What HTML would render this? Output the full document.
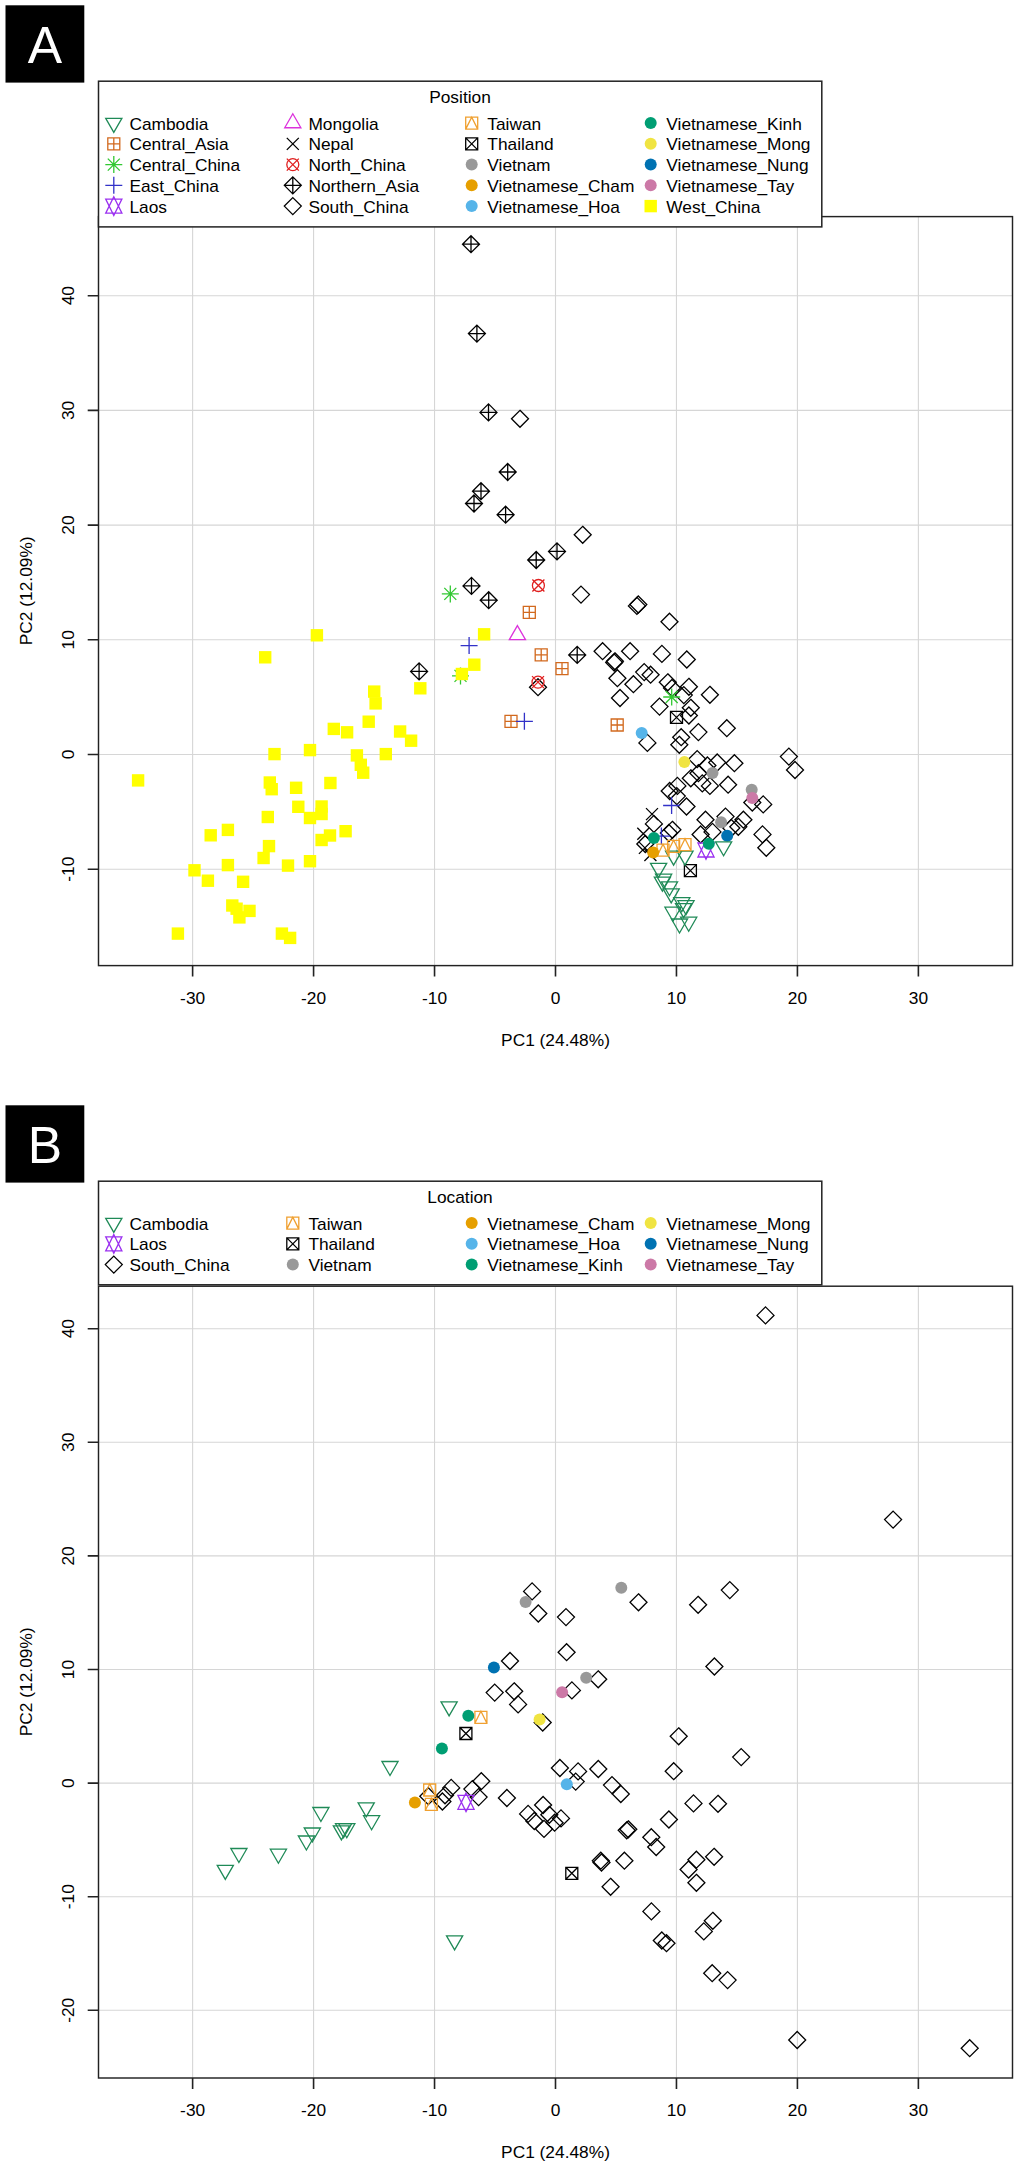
<!DOCTYPE html>
<html><head><meta charset="utf-8"><title>PCA</title>
<style>
html,body{margin:0;padding:0;background:#fff;}
body{width:1019px;height:2166px;overflow:hidden;}
svg{display:block;font-family:"Liberation Sans",sans-serif;font-size:16.2px;fill:#000;}
</style></head><body>
<svg width="1019" height="2166" viewBox="0 0 1019 2166">
<rect width="1019" height="2166" fill="#fff"/>
<rect x="5.5" y="5.3" width="78.8" height="77.3" fill="#000"/><text x="45" y="63" font-size="51.5" fill="#fff" text-anchor="middle">A</text><path d="M192.62 216.6V965.6M313.58 216.6V965.6M434.54 216.6V965.6M555.5 216.6V965.6M676.46 216.6V965.6M797.42 216.6V965.6M918.38 216.6V965.6M98.5 295.7H1012.5M98.5 410.4H1012.5M98.5 525.1H1012.5M98.5 639.8H1012.5M98.5 754.5H1012.5M98.5 869.2H1012.5" stroke="#d6d6d6" stroke-width="1.1" fill="none"/><g fill="none" stroke-width="1.3" stroke-linejoin="miter"><rect x="259" y="651.1" width="12.4" height="12.4" fill="#ffff00" stroke="none"/><rect x="310.7" y="629.1" width="12.4" height="12.4" fill="#ffff00" stroke="none"/><rect x="268.3" y="747.9" width="12.4" height="12.4" fill="#ffff00" stroke="none"/><rect x="303.8" y="743.9" width="12.4" height="12.4" fill="#ffff00" stroke="none"/><rect x="131.9" y="774.2" width="12.4" height="12.4" fill="#ffff00" stroke="none"/><rect x="263.6" y="776.3" width="12.4" height="12.4" fill="#ffff00" stroke="none"/><rect x="265.5" y="783" width="12.4" height="12.4" fill="#ffff00" stroke="none"/><rect x="289.9" y="781.6" width="12.4" height="12.4" fill="#ffff00" stroke="none"/><rect x="292.1" y="800.6" width="12.4" height="12.4" fill="#ffff00" stroke="none"/><rect x="261.6" y="810.8" width="12.4" height="12.4" fill="#ffff00" stroke="none"/><rect x="303.8" y="811.8" width="12.4" height="12.4" fill="#ffff00" stroke="none"/><rect x="315.4" y="800.3" width="12.4" height="12.4" fill="#ffff00" stroke="none"/><rect x="315.4" y="807.8" width="12.4" height="12.4" fill="#ffff00" stroke="none"/><rect x="477.9" y="628.1" width="12.4" height="12.4" fill="#ffff00" stroke="none"/><rect x="468.1" y="658.5" width="12.4" height="12.4" fill="#ffff00" stroke="none"/><rect x="414.1" y="682.1" width="12.4" height="12.4" fill="#ffff00" stroke="none"/><rect x="368" y="685.4" width="12.4" height="12.4" fill="#ffff00" stroke="none"/><rect x="369.4" y="697.2" width="12.4" height="12.4" fill="#ffff00" stroke="none"/><rect x="362.5" y="715.5" width="12.4" height="12.4" fill="#ffff00" stroke="none"/><rect x="327.6" y="722.7" width="12.4" height="12.4" fill="#ffff00" stroke="none"/><rect x="340.9" y="726.1" width="12.4" height="12.4" fill="#ffff00" stroke="none"/><rect x="393.9" y="725.3" width="12.4" height="12.4" fill="#ffff00" stroke="none"/><rect x="404.9" y="734.5" width="12.4" height="12.4" fill="#ffff00" stroke="none"/><rect x="350.7" y="749.2" width="12.4" height="12.4" fill="#ffff00" stroke="none"/><rect x="354.6" y="758.6" width="12.4" height="12.4" fill="#ffff00" stroke="none"/><rect x="357" y="766.5" width="12.4" height="12.4" fill="#ffff00" stroke="none"/><rect x="379.6" y="747.9" width="12.4" height="12.4" fill="#ffff00" stroke="none"/><rect x="324.2" y="776.8" width="12.4" height="12.4" fill="#ffff00" stroke="none"/><rect x="221.7" y="823.7" width="12.4" height="12.4" fill="#ffff00" stroke="none"/><rect x="204.5" y="829.1" width="12.4" height="12.4" fill="#ffff00" stroke="none"/><rect x="323.8" y="829.3" width="12.4" height="12.4" fill="#ffff00" stroke="none"/><rect x="315.4" y="833.8" width="12.4" height="12.4" fill="#ffff00" stroke="none"/><rect x="262.8" y="839.9" width="12.4" height="12.4" fill="#ffff00" stroke="none"/><rect x="257.4" y="851.8" width="12.4" height="12.4" fill="#ffff00" stroke="none"/><rect x="303.8" y="855" width="12.4" height="12.4" fill="#ffff00" stroke="none"/><rect x="281.8" y="859.4" width="12.4" height="12.4" fill="#ffff00" stroke="none"/><rect x="221.7" y="858.9" width="12.4" height="12.4" fill="#ffff00" stroke="none"/><rect x="188.3" y="864.1" width="12.4" height="12.4" fill="#ffff00" stroke="none"/><rect x="201.7" y="874.5" width="12.4" height="12.4" fill="#ffff00" stroke="none"/><rect x="236.9" y="875.6" width="12.4" height="12.4" fill="#ffff00" stroke="none"/><rect x="226.1" y="899.3" width="12.4" height="12.4" fill="#ffff00" stroke="none"/><rect x="230.4" y="902.5" width="12.4" height="12.4" fill="#ffff00" stroke="none"/><rect x="233.2" y="911.2" width="12.4" height="12.4" fill="#ffff00" stroke="none"/><rect x="243.3" y="904.7" width="12.4" height="12.4" fill="#ffff00" stroke="none"/><rect x="171.7" y="927.4" width="12.4" height="12.4" fill="#ffff00" stroke="none"/><rect x="275.7" y="927.4" width="12.4" height="12.4" fill="#ffff00" stroke="none"/><rect x="283.9" y="931.7" width="12.4" height="12.4" fill="#ffff00" stroke="none"/><rect x="339.4" y="825" width="12.4" height="12.4" fill="#ffff00" stroke="none"/><path d="M454.5 669.9L466.5 681.9M454.5 681.9L466.5 669.9M452.01 675.9H468.99M460.5 667.41V684.39" stroke="#32c832"/><rect x="455.7" y="667.8" width="12.4" height="12.4" fill="#ffff00" stroke="none"/><path d="M471 235.71L479.49 244.2L471 252.69L462.51 244.2ZM462.51 244.2H479.49M471 235.71V252.69" stroke="#000000"/><path d="M476.9 325.11L485.39 333.6L476.9 342.09L468.41 333.6ZM468.41 333.6H485.39M476.9 325.11V342.09" stroke="#000000"/><path d="M488.5 403.91L496.99 412.4L488.5 420.89L480.01 412.4ZM480.01 412.4H496.99M488.5 403.91V420.89" stroke="#000000"/><path d="M507.7 463.51L516.19 472L507.7 480.49L499.21 472ZM499.21 472H516.19M507.7 463.51V480.49" stroke="#000000"/><path d="M481 482.71L489.49 491.2L481 499.69L472.51 491.2ZM472.51 491.2H489.49M481 482.71V499.69" stroke="#000000"/><path d="M474 495.01L482.49 503.5L474 511.99L465.51 503.5ZM465.51 503.5H482.49M474 495.01V511.99" stroke="#000000"/><path d="M505.6 506.21L514.09 514.7L505.6 523.19L497.11 514.7ZM497.11 514.7H514.09M505.6 506.21V523.19" stroke="#000000"/><path d="M557 542.91L565.49 551.4L557 559.89L548.51 551.4ZM548.51 551.4H565.49M557 542.91V559.89" stroke="#000000"/><path d="M536.2 551.51L544.69 560L536.2 568.49L527.71 560ZM527.71 560H544.69M536.2 551.51V568.49" stroke="#000000"/><path d="M471.5 577.41L479.99 585.9L471.5 594.39L463.01 585.9ZM463.01 585.9H479.99M471.5 577.41V594.39" stroke="#000000"/><path d="M488.7 591.71L497.19 600.2L488.7 608.69L480.21 600.2ZM480.21 600.2H497.19M488.7 591.71V608.69" stroke="#000000"/><path d="M577.2 646.41L585.69 654.9L577.2 663.39L568.71 654.9ZM568.71 654.9H585.69M577.2 646.41V663.39" stroke="#000000"/><path d="M419.1 662.91L427.59 671.4L419.1 679.89L410.61 671.4ZM410.61 671.4H427.59M419.1 662.91V679.89" stroke="#000000"/><path d="M520 410.31L528.49 418.8L520 427.29L511.51 418.8Z" stroke="#000000"/><path d="M582.7 526.31L591.19 534.8L582.7 543.29L574.21 534.8Z" stroke="#000000"/><path d="M581 586.11L589.49 594.6L581 603.09L572.51 594.6Z" stroke="#000000"/><path d="M636.9 597.41L645.39 605.9L636.9 614.39L628.41 605.9Z" stroke="#000000"/><path d="M638.3 596.01L646.79 604.5L638.3 612.99L629.81 604.5Z" stroke="#000000"/><path d="M669.5 613.21L677.99 621.7L669.5 630.19L661.01 621.7Z" stroke="#000000"/><path d="M602.6 642.71L611.09 651.2L602.6 659.69L594.11 651.2Z" stroke="#000000"/><path d="M630.1 642.71L638.59 651.2L630.1 659.69L621.61 651.2Z" stroke="#000000"/><path d="M661.9 645.41L670.39 653.9L661.9 662.39L653.41 653.9Z" stroke="#000000"/><path d="M686.8 651.01L695.29 659.5L686.8 667.99L678.31 659.5Z" stroke="#000000"/><path d="M614.2 654.01L622.69 662.5L614.2 670.99L605.71 662.5Z" stroke="#000000"/><path d="M614.9 652.81L623.39 661.3L614.9 669.79L606.41 661.3Z" stroke="#000000"/><path d="M617.4 669.71L625.89 678.2L617.4 686.69L608.91 678.2Z" stroke="#000000"/><path d="M644.2 663.61L652.69 672.1L644.2 680.59L635.71 672.1Z" stroke="#000000"/><path d="M650.6 666.21L659.09 674.7L650.6 683.19L642.11 674.7Z" stroke="#000000"/><path d="M633.4 675.71L641.89 684.2L633.4 692.69L624.91 684.2Z" stroke="#000000"/><path d="M620 689.51L628.49 698L620 706.49L611.51 698Z" stroke="#000000"/><path d="M667.8 673.81L676.29 682.3L667.8 690.79L659.31 682.3Z" stroke="#000000"/><path d="M672 679.51L680.49 688L672 696.49L663.51 688Z" stroke="#000000"/><path d="M688.9 678.31L697.39 686.8L688.9 695.29L680.41 686.8Z" stroke="#000000"/><path d="M709.9 686.31L718.39 694.8L709.9 703.29L701.41 694.8Z" stroke="#000000"/><path d="M683.8 686.61L692.29 695.1L683.8 703.59L675.31 695.1Z" stroke="#000000"/><path d="M659.5 698.11L667.99 706.6L659.5 715.09L651.01 706.6Z" stroke="#000000"/><path d="M690.8 699.31L699.29 707.8L690.8 716.29L682.31 707.8Z" stroke="#000000"/><path d="M688.9 707.01L697.39 715.5L688.9 723.99L680.41 715.5Z" stroke="#000000"/><path d="M698.4 723.61L706.89 732.1L698.4 740.59L689.91 732.1Z" stroke="#000000"/><path d="M681.2 728.71L689.69 737.2L681.2 745.69L672.71 737.2Z" stroke="#000000"/><path d="M679.3 736.31L687.79 744.8L679.3 753.29L670.81 744.8Z" stroke="#000000"/><path d="M647.4 734.41L655.89 742.9L647.4 751.39L638.91 742.9Z" stroke="#000000"/><path d="M538 678.71L546.49 687.2L538 695.69L529.51 687.2Z" stroke="#000000"/><path d="M726.8 719.71L735.29 728.2L726.8 736.69L718.31 728.2Z" stroke="#000000"/><path d="M788.9 748.11L797.39 756.6L788.9 765.09L780.41 756.6Z" stroke="#000000"/><path d="M795 761.51L803.49 770L795 778.49L786.51 770Z" stroke="#000000"/><path d="M697.2 750.61L705.69 759.1L697.2 767.59L688.71 759.1Z" stroke="#000000"/><path d="M690.8 769.81L699.29 778.3L690.8 786.79L682.31 778.3Z" stroke="#000000"/><path d="M698.4 764.71L706.89 773.2L698.4 781.69L689.91 773.2Z" stroke="#000000"/><path d="M702.3 774.91L710.79 783.4L702.3 791.89L693.81 783.4Z" stroke="#000000"/><path d="M709.9 777.41L718.39 785.9L709.9 794.39L701.41 785.9Z" stroke="#000000"/><path d="M707.4 757.01L715.89 765.5L707.4 773.99L698.91 765.5Z" stroke="#000000"/><path d="M669.7 782.51L678.19 791L669.7 799.49L661.21 791Z" stroke="#000000"/><path d="M677.4 777.41L685.89 785.9L677.4 794.39L668.91 785.9Z" stroke="#000000"/><path d="M676.8 787.61L685.29 796.1L676.8 804.59L668.31 796.1Z" stroke="#000000"/><path d="M686.5 798.01L694.99 806.5L686.5 814.99L678.01 806.5Z" stroke="#000000"/><path d="M653.9 815.41L662.39 823.9L653.9 832.39L645.41 823.9Z" stroke="#000000"/><path d="M672.4 821.31L680.89 829.8L672.4 838.29L663.91 829.8Z" stroke="#000000"/><path d="M668.9 824.51L677.39 833L668.9 841.49L660.41 833Z" stroke="#000000"/><path d="M705.5 811.21L713.99 819.7L705.5 828.19L697.01 819.7Z" stroke="#000000"/><path d="M700.6 826.01L709.09 834.5L700.6 842.99L692.11 834.5Z" stroke="#000000"/><path d="M712.5 823.41L720.99 831.9L712.5 840.39L704.01 831.9Z" stroke="#000000"/><path d="M645.3 835.51L653.79 844L645.3 852.49L636.81 844Z" stroke="#000000"/><path d="M717.2 754.01L725.69 762.5L717.2 770.99L708.71 762.5Z" stroke="#000000"/><path d="M734.4 754.71L742.89 763.2L734.4 771.69L725.91 763.2Z" stroke="#000000"/><path d="M728.1 776.21L736.59 784.7L728.1 793.19L719.61 784.7Z" stroke="#000000"/><path d="M752.3 794.01L760.79 802.5L752.3 810.99L743.81 802.5Z" stroke="#000000"/><path d="M763.2 795.91L771.69 804.4L763.2 812.89L754.71 804.4Z" stroke="#000000"/><path d="M725.5 808.11L733.99 816.6L725.5 825.09L717.01 816.6Z" stroke="#000000"/><path d="M743.4 811.21L751.89 819.7L743.4 828.19L734.91 819.7Z" stroke="#000000"/><path d="M738.3 818.31L746.79 826.8L738.3 835.29L729.81 826.8Z" stroke="#000000"/><path d="M731.3 819.51L739.79 828L731.3 836.49L722.81 828Z" stroke="#000000"/><path d="M762.5 825.91L770.99 834.4L762.5 842.89L754.01 834.4Z" stroke="#000000"/><path d="M766.3 839.31L774.79 847.8L766.3 856.29L757.81 847.8Z" stroke="#000000"/><path d="M523.3 606.3H535.3V618.3H523.3ZM523.3 612.3H535.3M529.3 606.3V618.3" stroke="#d2691e"/><path d="M535.2 648.9H547.2V660.9H535.2ZM535.2 654.9H547.2M541.2 648.9V660.9" stroke="#d2691e"/><path d="M556 662.7H568V674.7H556ZM556 668.7H568M562 662.7V674.7" stroke="#d2691e"/><path d="M505 715.3H517V727.3H505ZM505 721.3H517M511 715.3V727.3" stroke="#d2691e"/><path d="M611.2 719H623.2V731H611.2ZM611.2 725H623.2M617.2 719V731" stroke="#d2691e"/><path d="M444.3 587.9L456.3 599.9M444.3 599.9L456.3 587.9M441.81 593.9H458.79M450.3 585.41V602.39" stroke="#32c832"/><path d="M665.7 691L677.7 703M665.7 703L677.7 691M663.21 697H680.19M671.7 688.51V705.49" stroke="#32c832"/><path d="M460.61 645.6H477.59M469.1 637.11V654.09" stroke="#3232c8"/><path d="M515.91 721.3H532.89M524.4 712.81V729.79" stroke="#3232c8"/><path d="M663.11 805.5H680.09M671.6 797.01V813.99" stroke="#3232c8"/><path d="M652.91 836.1H669.89M661.4 827.61V844.59" stroke="#3232c8"/><path d="M517.4 625.67L525.48 639.67L509.32 639.67Z" stroke="#dc32dc"/><circle cx="538.4" cy="585.5" r="6" stroke="#e02020"/><path d="M532.4 579.5L544.4 591.5M532.4 591.5L544.4 579.5" stroke="#e02020"/><circle cx="538" cy="682.1" r="6" stroke="#e02020"/><path d="M532 676.1L544 688.1M532 688.1L544 676.1" stroke="#e02020"/><path d="M646 808.1L658 820.1M646 820.1L658 808.1" stroke="#000000"/><path d="M637.3 827.8L649.3 839.8M637.3 839.8L649.3 827.8" stroke="#000000"/><path d="M638.9 841.9L650.9 853.9M638.9 853.9L650.9 841.9" stroke="#000000"/><path d="M644.4 849L656.4 861M644.4 861L656.4 849" stroke="#000000"/><path d="M670.5 711.4H682.5V723.4H670.5ZM670.5 711.4L682.5 723.4M670.5 723.4L682.5 711.4" stroke="#000000"/><path d="M684.4 864.6H696.4V876.6H684.4ZM684.4 864.6L696.4 876.6M684.4 876.6L696.4 864.6" stroke="#000000"/><circle cx="712.5" cy="772.9" r="6" fill="#999999" stroke="none"/><circle cx="751.7" cy="789.8" r="6" fill="#999999" stroke="none"/><circle cx="721.1" cy="822.3" r="6" fill="#999999" stroke="none"/><circle cx="641.7" cy="733.1" r="6" fill="#56b4e9" stroke="none"/><circle cx="684.4" cy="761.9" r="6" fill="#f0e442" stroke="none"/><circle cx="752.3" cy="798" r="6" fill="#cc79a7" stroke="none"/><circle cx="727.2" cy="835.7" r="6" fill="#0072b2" stroke="none"/><path d="M658.6 877.4L666.68 863.4L650.52 863.4Z" stroke="#1f8a57"/><path d="M663.6 888.2L671.68 874.2L655.52 874.2Z" stroke="#1f8a57"/><path d="M662.4 891.1L670.48 877.1L654.32 877.1Z" stroke="#1f8a57"/><path d="M669.5 895.8L677.58 881.8L661.42 881.8Z" stroke="#1f8a57"/><path d="M671.2 902.9L679.28 888.9L663.12 888.9Z" stroke="#1f8a57"/><path d="M681.8 911.7L689.88 897.7L673.72 897.7Z" stroke="#1f8a57"/><path d="M686 914.7L694.08 900.7L677.92 900.7Z" stroke="#1f8a57"/><path d="M683.6 917.6L691.68 903.6L675.52 903.6Z" stroke="#1f8a57"/><path d="M673 921.2L681.08 907.2L664.92 907.2Z" stroke="#1f8a57"/><path d="M688.7 931.2L696.78 917.2L680.62 917.2Z" stroke="#1f8a57"/><path d="M679.5 933L687.58 919L671.42 919Z" stroke="#1f8a57"/><path d="M673.6 865.1L681.68 851.1L665.52 851.1Z" stroke="#1f8a57"/><path d="M685 865.1L693.08 851.1L676.92 851.1Z" stroke="#1f8a57"/><path d="M723.6 855.8L731.68 841.8L715.52 841.8Z" stroke="#1f8a57"/><path d="M657 844.2H669V856.2H657ZM657 856.2L663 844.2L669 856.2" stroke="#f0a030"/><path d="M667.6 840.3H679.6V852.3H667.6ZM667.6 852.3L673.6 840.3L679.6 852.3" stroke="#f0a030"/><path d="M679 838.7H691V850.7H679ZM679 850.7L685 838.7L691 850.7" stroke="#f0a030"/><path d="M706 840.67L714.08 857L697.92 857ZM706 859.33L714.08 843L697.92 843Z" stroke="#9b30f0"/><circle cx="653.9" cy="838.1" r="6" fill="#009e73" stroke="none"/><circle cx="708.8" cy="843.8" r="6" fill="#009e73" stroke="none"/><circle cx="653.2" cy="852.6" r="6" fill="#e69f00" stroke="none"/></g><rect x="98.5" y="216.6" width="914.0" height="749" fill="none" stroke="#222" stroke-width="1.45"/><path d="M192.62 965.6v11M313.58 965.6v11M434.54 965.6v11M555.5 965.6v11M676.46 965.6v11M797.42 965.6v11M918.38 965.6v11M98 295.7h-10.3M98 410.4h-10.3M98 525.1h-10.3M98 639.8h-10.3M98 754.5h-10.3M98 869.2h-10.3" stroke="#222" stroke-width="1.6" fill="none"/><text transform="translate(192.62 1003.6) scale(1.07 1)" text-anchor="middle">-30</text><text transform="translate(313.58 1003.6) scale(1.07 1)" text-anchor="middle">-20</text><text transform="translate(434.54 1003.6) scale(1.07 1)" text-anchor="middle">-10</text><text transform="translate(555.5 1003.6) scale(1.07 1)" text-anchor="middle">0</text><text transform="translate(676.46 1003.6) scale(1.07 1)" text-anchor="middle">10</text><text transform="translate(797.42 1003.6) scale(1.07 1)" text-anchor="middle">20</text><text transform="translate(918.38 1003.6) scale(1.07 1)" text-anchor="middle">30</text><text transform="translate(74.2 295.7) rotate(-90) scale(1.07 1)" text-anchor="middle">40</text><text transform="translate(74.2 410.4) rotate(-90) scale(1.07 1)" text-anchor="middle">30</text><text transform="translate(74.2 525.1) rotate(-90) scale(1.07 1)" text-anchor="middle">20</text><text transform="translate(74.2 639.8) rotate(-90) scale(1.07 1)" text-anchor="middle">10</text><text transform="translate(74.2 754.5) rotate(-90) scale(1.07 1)" text-anchor="middle">0</text><text transform="translate(74.2 869.2) rotate(-90) scale(1.07 1)" text-anchor="middle">-10</text><text transform="translate(555.5 1045.8) scale(1.07 1)" text-anchor="middle">PC1 (24.48%)</text><text transform="translate(31.8 590.8) rotate(-90) scale(1.07 1)" text-anchor="middle">PC2 (12.09%)</text><rect x="98.5" y="81.2" width="723.3" height="145.7" fill="#fff" stroke="#222" stroke-width="1.5"/><text transform="translate(460 102.9) scale(1.07 1)" text-anchor="middle">Position</text><g fill="none" stroke-width="1.3"><path d="M113.8 132.43L121.88 118.43L105.72 118.43Z" stroke="#1f8a57"/><path d="M107.8 137.85H119.8V149.85H107.8ZM107.8 143.85H119.8M113.8 137.85V149.85" stroke="#d2691e"/><path d="M107.8 158.6L119.8 170.6M107.8 170.6L119.8 158.6M105.31 164.6H122.29M113.8 156.11V173.09" stroke="#32c832"/><path d="M105.31 185.35H122.29M113.8 176.86V193.84" stroke="#3232c8"/><path d="M113.8 196.77L121.88 213.1L105.72 213.1ZM113.8 215.43L121.88 199.1L105.72 199.1Z" stroke="#9b30f0"/><path d="M292.8 113.77L300.88 127.77L284.72 127.77Z" stroke="#dc32dc"/><path d="M286.8 137.85L298.8 149.85M286.8 149.85L298.8 137.85" stroke="#000000"/><circle cx="292.8" cy="164.6" r="6" stroke="#e02020"/><path d="M286.8 158.6L298.8 170.6M286.8 170.6L298.8 158.6" stroke="#e02020"/><path d="M292.8 176.86L301.29 185.35L292.8 193.84L284.31 185.35ZM284.31 185.35H301.29M292.8 176.86V193.84" stroke="#000000"/><path d="M292.8 197.61L301.29 206.1L292.8 214.59L284.31 206.1Z" stroke="#000000"/><path d="M465.7 117.1H477.7V129.1H465.7ZM465.7 129.1L471.7 117.1L477.7 129.1" stroke="#f0a030"/><path d="M465.7 137.85H477.7V149.85H465.7ZM465.7 137.85L477.7 149.85M465.7 149.85L477.7 137.85" stroke="#000000"/><circle cx="471.7" cy="164.6" r="6" fill="#999999" stroke="none"/><circle cx="471.7" cy="185.35" r="6" fill="#e69f00" stroke="none"/><circle cx="471.7" cy="206.1" r="6" fill="#56b4e9" stroke="none"/><circle cx="650.7" cy="123.1" r="6" fill="#009e73" stroke="none"/><circle cx="650.7" cy="143.85" r="6" fill="#f0e442" stroke="none"/><circle cx="650.7" cy="164.6" r="6" fill="#0072b2" stroke="none"/><circle cx="650.7" cy="185.35" r="6" fill="#cc79a7" stroke="none"/><rect x="644.5" y="199.9" width="12.4" height="12.4" fill="#ffff00" stroke="none"/></g><text transform="translate(129.4 129.6) scale(1.07 1)">Cambodia</text><text transform="translate(129.4 150.35) scale(1.07 1)">Central_Asia</text><text transform="translate(129.4 171.1) scale(1.07 1)">Central_China</text><text transform="translate(129.4 191.85) scale(1.07 1)">East_China</text><text transform="translate(129.4 212.6) scale(1.07 1)">Laos</text><text transform="translate(308.4 129.6) scale(1.07 1)">Mongolia</text><text transform="translate(308.4 150.35) scale(1.07 1)">Nepal</text><text transform="translate(308.4 171.1) scale(1.07 1)">North_China</text><text transform="translate(308.4 191.85) scale(1.07 1)">Northern_Asia</text><text transform="translate(308.4 212.6) scale(1.07 1)">South_China</text><text transform="translate(487.3 129.6) scale(1.07 1)">Taiwan</text><text transform="translate(487.3 150.35) scale(1.07 1)">Thailand</text><text transform="translate(487.3 171.1) scale(1.07 1)">Vietnam</text><text transform="translate(487.3 191.85) scale(1.07 1)">Vietnamese_Cham</text><text transform="translate(487.3 212.6) scale(1.07 1)">Vietnamese_Hoa</text><text transform="translate(666.3 129.6) scale(1.07 1)">Vietnamese_Kinh</text><text transform="translate(666.3 150.35) scale(1.07 1)">Vietnamese_Mong</text><text transform="translate(666.3 171.1) scale(1.07 1)">Vietnamese_Nung</text><text transform="translate(666.3 191.85) scale(1.07 1)">Vietnamese_Tay</text><text transform="translate(666.3 212.6) scale(1.07 1)">West_China</text>
<rect x="5.5" y="1105.3" width="78.8" height="77.3" fill="#000"/><text x="45" y="1163" font-size="51.5" fill="#fff" text-anchor="middle">B</text><path d="M192.62 1286.2V2078M313.58 1286.2V2078M434.54 1286.2V2078M555.5 1286.2V2078M676.46 1286.2V2078M797.42 1286.2V2078M918.38 1286.2V2078M98.5 1328.7H1012.5M98.5 1442.3H1012.5M98.5 1555.9H1012.5M98.5 1669.5H1012.5M98.5 1783.1H1012.5M98.5 1896.7H1012.5M98.5 2010.3H1012.5" stroke="#d6d6d6" stroke-width="1.1" fill="none"/><g fill="none" stroke-width="1.3" stroke-linejoin="miter"><path d="M765.5 1306.91L773.99 1315.4L765.5 1323.89L757.01 1315.4Z" stroke="#000000"/><path d="M893.1 1511.11L901.59 1519.6L893.1 1528.09L884.61 1519.6Z" stroke="#000000"/><path d="M532.1 1582.91L540.59 1591.4L532.1 1599.89L523.61 1591.4Z" stroke="#000000"/><path d="M538.3 1605.01L546.79 1613.5L538.3 1621.99L529.81 1613.5Z" stroke="#000000"/><path d="M566 1608.61L574.49 1617.1L566 1625.59L557.51 1617.1Z" stroke="#000000"/><path d="M638.5 1593.81L646.99 1602.3L638.5 1610.79L630.01 1602.3Z" stroke="#000000"/><path d="M698.1 1596.31L706.59 1604.8L698.1 1613.29L689.61 1604.8Z" stroke="#000000"/><path d="M729.8 1581.61L738.29 1590.1L729.8 1598.59L721.31 1590.1Z" stroke="#000000"/><path d="M566.6 1643.71L575.09 1652.2L566.6 1660.69L558.11 1652.2Z" stroke="#000000"/><path d="M510 1652.51L518.49 1661L510 1669.49L501.51 1661Z" stroke="#000000"/><path d="M714.4 1658.01L722.89 1666.5L714.4 1674.99L705.91 1666.5Z" stroke="#000000"/><path d="M598.2 1670.81L606.69 1679.3L598.2 1687.79L589.71 1679.3Z" stroke="#000000"/><path d="M571.9 1681.91L580.39 1690.4L571.9 1698.89L563.41 1690.4Z" stroke="#000000"/><path d="M494.7 1684.11L503.19 1692.6L494.7 1701.09L486.21 1692.6Z" stroke="#000000"/><path d="M514.2 1682.81L522.69 1691.3L514.2 1699.79L505.71 1691.3Z" stroke="#000000"/><path d="M518.1 1695.91L526.59 1704.4L518.1 1712.89L509.61 1704.4Z" stroke="#000000"/><path d="M542.7 1714.01L551.19 1722.5L542.7 1730.99L534.21 1722.5Z" stroke="#000000"/><path d="M678.7 1727.81L687.19 1736.3L678.7 1744.79L670.21 1736.3Z" stroke="#000000"/><path d="M741.2 1748.61L749.69 1757.1L741.2 1765.59L732.71 1757.1Z" stroke="#000000"/><path d="M673.7 1762.71L682.19 1771.2L673.7 1779.69L665.21 1771.2Z" stroke="#000000"/><path d="M559.9 1759.51L568.39 1768L559.9 1776.49L551.41 1768Z" stroke="#000000"/><path d="M578.1 1762.91L586.59 1771.4L578.1 1779.89L569.61 1771.4Z" stroke="#000000"/><path d="M598.3 1760.51L606.79 1769L598.3 1777.49L589.81 1769Z" stroke="#000000"/><path d="M575.7 1773.11L584.19 1781.6L575.7 1790.09L567.21 1781.6Z" stroke="#000000"/><path d="M612 1776.61L620.49 1785.1L612 1793.59L603.51 1785.1Z" stroke="#000000"/><path d="M620.8 1785.51L629.29 1794L620.8 1802.49L612.31 1794Z" stroke="#000000"/><path d="M693.5 1794.91L701.99 1803.4L693.5 1811.89L685.01 1803.4Z" stroke="#000000"/><path d="M718 1795.31L726.49 1803.8L718 1812.29L709.51 1803.8Z" stroke="#000000"/><path d="M668.9 1811.01L677.39 1819.5L668.9 1827.99L660.41 1819.5Z" stroke="#000000"/><path d="M561 1809.91L569.49 1818.4L561 1826.89L552.51 1818.4Z" stroke="#000000"/><path d="M626.7 1821.81L635.19 1830.3L626.7 1838.79L618.21 1830.3Z" stroke="#000000"/><path d="M628.3 1820.81L636.79 1829.3L628.3 1837.79L619.81 1829.3Z" stroke="#000000"/><path d="M651.3 1828.71L659.79 1837.2L651.3 1845.69L642.81 1837.2Z" stroke="#000000"/><path d="M656.2 1838.51L664.69 1847L656.2 1855.49L647.71 1847Z" stroke="#000000"/><path d="M600.8 1852.21L609.29 1860.7L600.8 1869.19L592.31 1860.7Z" stroke="#000000"/><path d="M601.5 1854.01L609.99 1862.5L601.5 1870.99L593.01 1862.5Z" stroke="#000000"/><path d="M624.4 1852.21L632.89 1860.7L624.4 1869.19L615.91 1860.7Z" stroke="#000000"/><path d="M610.6 1878.31L619.09 1886.8L610.6 1895.29L602.11 1886.8Z" stroke="#000000"/><path d="M696.4 1851.21L704.89 1859.7L696.4 1868.19L687.91 1859.7Z" stroke="#000000"/><path d="M714.1 1848.31L722.59 1856.8L714.1 1865.29L705.61 1856.8Z" stroke="#000000"/><path d="M688.6 1861.01L697.09 1869.5L688.6 1877.99L680.11 1869.5Z" stroke="#000000"/><path d="M696.4 1874.31L704.89 1882.8L696.4 1891.29L687.91 1882.8Z" stroke="#000000"/><path d="M651.4 1902.91L659.89 1911.4L651.4 1919.89L642.91 1911.4Z" stroke="#000000"/><path d="M712.8 1912.31L721.29 1920.8L712.8 1929.29L704.31 1920.8Z" stroke="#000000"/><path d="M703.8 1922.91L712.29 1931.4L703.8 1939.89L695.31 1931.4Z" stroke="#000000"/><path d="M661.8 1932.01L670.29 1940.5L661.8 1948.99L653.31 1940.5Z" stroke="#000000"/><path d="M666.5 1934.71L674.99 1943.2L666.5 1951.69L658.01 1943.2Z" stroke="#000000"/><path d="M712.2 1964.71L720.69 1973.2L712.2 1981.69L703.71 1973.2Z" stroke="#000000"/><path d="M727.6 1971.61L736.09 1980.1L727.6 1988.59L719.11 1980.1Z" stroke="#000000"/><path d="M797.2 2031.51L805.69 2040L797.2 2048.49L788.71 2040Z" stroke="#000000"/><path d="M969.7 2039.71L978.19 2048.2L969.7 2056.69L961.21 2048.2Z" stroke="#000000"/><path d="M428.3 1787.71L436.79 1796.2L428.3 1804.69L419.81 1796.2Z" stroke="#000000"/><path d="M442.4 1793.01L450.89 1801.5L442.4 1809.99L433.91 1801.5Z" stroke="#000000"/><path d="M451.2 1779.41L459.69 1787.9L451.2 1796.39L442.71 1787.9Z" stroke="#000000"/><path d="M445 1786.81L453.49 1795.3L445 1803.79L436.51 1795.3Z" stroke="#000000"/><path d="M481.3 1772.71L489.79 1781.2L481.3 1789.69L472.81 1781.2Z" stroke="#000000"/><path d="M472.4 1780.61L480.89 1789.1L472.4 1797.59L463.91 1789.1Z" stroke="#000000"/><path d="M478.6 1788.61L487.09 1797.1L478.6 1805.59L470.11 1797.1Z" stroke="#000000"/><path d="M506.9 1789.51L515.39 1798L506.9 1806.49L498.41 1798Z" stroke="#000000"/><path d="M543.1 1796.51L551.59 1805L543.1 1813.49L534.61 1805Z" stroke="#000000"/><path d="M528.1 1805.41L536.59 1813.9L528.1 1822.39L519.61 1813.9Z" stroke="#000000"/><path d="M534.3 1812.51L542.79 1821L534.3 1829.49L525.81 1821Z" stroke="#000000"/><path d="M549.3 1806.31L557.79 1814.8L549.3 1823.29L540.81 1814.8Z" stroke="#000000"/><path d="M544 1820.41L552.49 1828.9L544 1837.39L535.51 1828.9Z" stroke="#000000"/><path d="M554.6 1814.21L563.09 1822.7L554.6 1831.19L546.11 1822.7Z" stroke="#000000"/><path d="M390 1775.5L398.08 1761.5L381.92 1761.5Z" stroke="#1f8a57"/><path d="M320.9 1821.5L328.98 1807.5L312.82 1807.5Z" stroke="#1f8a57"/><path d="M366.2 1816.8L374.28 1802.8L358.12 1802.8Z" stroke="#1f8a57"/><path d="M371.6 1829.7L379.68 1815.7L363.52 1815.7Z" stroke="#1f8a57"/><path d="M312.3 1842L320.38 1828L304.22 1828Z" stroke="#1f8a57"/><path d="M306.4 1850L314.48 1836L298.32 1836Z" stroke="#1f8a57"/><path d="M343.6 1837.7L351.68 1823.7L335.52 1823.7Z" stroke="#1f8a57"/><path d="M341.4 1839.9L349.48 1825.9L333.32 1825.9Z" stroke="#1f8a57"/><path d="M346.8 1837.7L354.88 1823.7L338.72 1823.7Z" stroke="#1f8a57"/><path d="M238.9 1862.5L246.98 1848.5L230.82 1848.5Z" stroke="#1f8a57"/><path d="M278.4 1863.2L286.48 1849.2L270.32 1849.2Z" stroke="#1f8a57"/><path d="M225.3 1879.4L233.38 1865.4L217.22 1865.4Z" stroke="#1f8a57"/><path d="M449.1 1715.9L457.18 1701.9L441.02 1701.9Z" stroke="#1f8a57"/><path d="M454.6 1949.9L462.68 1935.9L446.52 1935.9Z" stroke="#1f8a57"/><path d="M466 1792.97L474.08 1809.3L457.92 1809.3ZM466 1811.63L474.08 1795.3L457.92 1795.3Z" stroke="#9b30f0"/><path d="M474.9 1711.3H486.9V1723.3H474.9ZM474.9 1723.3L480.9 1711.3L486.9 1723.3" stroke="#f0a030"/><path d="M423.7 1784H435.7V1796H423.7ZM423.7 1796L429.7 1784L435.7 1796" stroke="#f0a030"/><path d="M425.4 1798.3H437.4V1810.3H425.4ZM425.4 1810.3L431.4 1798.3L437.4 1810.3" stroke="#f0a030"/><path d="M459.9 1727.5H471.9V1739.5H459.9ZM459.9 1727.5L471.9 1739.5M459.9 1739.5L471.9 1727.5" stroke="#000000"/><path d="M565.8 1867.3H577.8V1879.3H565.8ZM565.8 1867.3L577.8 1879.3M565.8 1879.3L577.8 1867.3" stroke="#000000"/><circle cx="525.6" cy="1602" r="6" fill="#999999" stroke="none"/><circle cx="621.3" cy="1587.8" r="6" fill="#999999" stroke="none"/><circle cx="586.2" cy="1677.8" r="6" fill="#999999" stroke="none"/><circle cx="414.9" cy="1802.5" r="6" fill="#e69f00" stroke="none"/><circle cx="566.8" cy="1784.2" r="6" fill="#56b4e9" stroke="none"/><circle cx="468.3" cy="1715.7" r="6" fill="#009e73" stroke="none"/><circle cx="441.9" cy="1748.4" r="6" fill="#009e73" stroke="none"/><circle cx="539.6" cy="1719.6" r="6" fill="#f0e442" stroke="none"/><circle cx="493.9" cy="1667.5" r="6" fill="#0072b2" stroke="none"/><circle cx="562.1" cy="1692.2" r="6" fill="#cc79a7" stroke="none"/></g><rect x="98.5" y="1286.2" width="914.0" height="791.8" fill="none" stroke="#222" stroke-width="1.45"/><path d="M192.62 2078v11M313.58 2078v11M434.54 2078v11M555.5 2078v11M676.46 2078v11M797.42 2078v11M918.38 2078v11M98 1328.7h-10.3M98 1442.3h-10.3M98 1555.9h-10.3M98 1669.5h-10.3M98 1783.1h-10.3M98 1896.7h-10.3M98 2010.3h-10.3" stroke="#222" stroke-width="1.6" fill="none"/><text transform="translate(192.62 2116) scale(1.07 1)" text-anchor="middle">-30</text><text transform="translate(313.58 2116) scale(1.07 1)" text-anchor="middle">-20</text><text transform="translate(434.54 2116) scale(1.07 1)" text-anchor="middle">-10</text><text transform="translate(555.5 2116) scale(1.07 1)" text-anchor="middle">0</text><text transform="translate(676.46 2116) scale(1.07 1)" text-anchor="middle">10</text><text transform="translate(797.42 2116) scale(1.07 1)" text-anchor="middle">20</text><text transform="translate(918.38 2116) scale(1.07 1)" text-anchor="middle">30</text><text transform="translate(74.2 1328.7) rotate(-90) scale(1.07 1)" text-anchor="middle">40</text><text transform="translate(74.2 1442.3) rotate(-90) scale(1.07 1)" text-anchor="middle">30</text><text transform="translate(74.2 1555.9) rotate(-90) scale(1.07 1)" text-anchor="middle">20</text><text transform="translate(74.2 1669.5) rotate(-90) scale(1.07 1)" text-anchor="middle">10</text><text transform="translate(74.2 1783.1) rotate(-90) scale(1.07 1)" text-anchor="middle">0</text><text transform="translate(74.2 1896.7) rotate(-90) scale(1.07 1)" text-anchor="middle">-10</text><text transform="translate(74.2 2010.3) rotate(-90) scale(1.07 1)" text-anchor="middle">-20</text><text transform="translate(555.5 2158.2) scale(1.07 1)" text-anchor="middle">PC1 (24.48%)</text><text transform="translate(31.8 1681.8) rotate(-90) scale(1.07 1)" text-anchor="middle">PC2 (12.09%)</text><rect x="98.5" y="1181.2" width="723.3" height="103.6" fill="#fff" stroke="#222" stroke-width="1.5"/><text transform="translate(460 1202.9) scale(1.07 1)" text-anchor="middle">Location</text><g fill="none" stroke-width="1.3"><path d="M113.8 1232.43L121.88 1218.43L105.72 1218.43Z" stroke="#1f8a57"/><path d="M113.8 1234.52L121.88 1250.85L105.72 1250.85ZM113.8 1253.18L121.88 1236.85L105.72 1236.85Z" stroke="#9b30f0"/><path d="M113.8 1256.11L122.29 1264.6L113.8 1273.09L105.31 1264.6Z" stroke="#000000"/><path d="M286.8 1217.1H298.8V1229.1H286.8ZM286.8 1229.1L292.8 1217.1L298.8 1229.1" stroke="#f0a030"/><path d="M286.8 1237.85H298.8V1249.85H286.8ZM286.8 1237.85L298.8 1249.85M286.8 1249.85L298.8 1237.85" stroke="#000000"/><circle cx="292.8" cy="1264.6" r="6" fill="#999999" stroke="none"/><circle cx="471.7" cy="1223.1" r="6" fill="#e69f00" stroke="none"/><circle cx="471.7" cy="1243.85" r="6" fill="#56b4e9" stroke="none"/><circle cx="471.7" cy="1264.6" r="6" fill="#009e73" stroke="none"/><circle cx="650.7" cy="1223.1" r="6" fill="#f0e442" stroke="none"/><circle cx="650.7" cy="1243.85" r="6" fill="#0072b2" stroke="none"/><circle cx="650.7" cy="1264.6" r="6" fill="#cc79a7" stroke="none"/></g><text transform="translate(129.4 1229.6) scale(1.07 1)">Cambodia</text><text transform="translate(129.4 1250.35) scale(1.07 1)">Laos</text><text transform="translate(129.4 1271.1) scale(1.07 1)">South_China</text><text transform="translate(308.4 1229.6) scale(1.07 1)">Taiwan</text><text transform="translate(308.4 1250.35) scale(1.07 1)">Thailand</text><text transform="translate(308.4 1271.1) scale(1.07 1)">Vietnam</text><text transform="translate(487.3 1229.6) scale(1.07 1)">Vietnamese_Cham</text><text transform="translate(487.3 1250.35) scale(1.07 1)">Vietnamese_Hoa</text><text transform="translate(487.3 1271.1) scale(1.07 1)">Vietnamese_Kinh</text><text transform="translate(666.3 1229.6) scale(1.07 1)">Vietnamese_Mong</text><text transform="translate(666.3 1250.35) scale(1.07 1)">Vietnamese_Nung</text><text transform="translate(666.3 1271.1) scale(1.07 1)">Vietnamese_Tay</text>
</svg>
</body></html>
